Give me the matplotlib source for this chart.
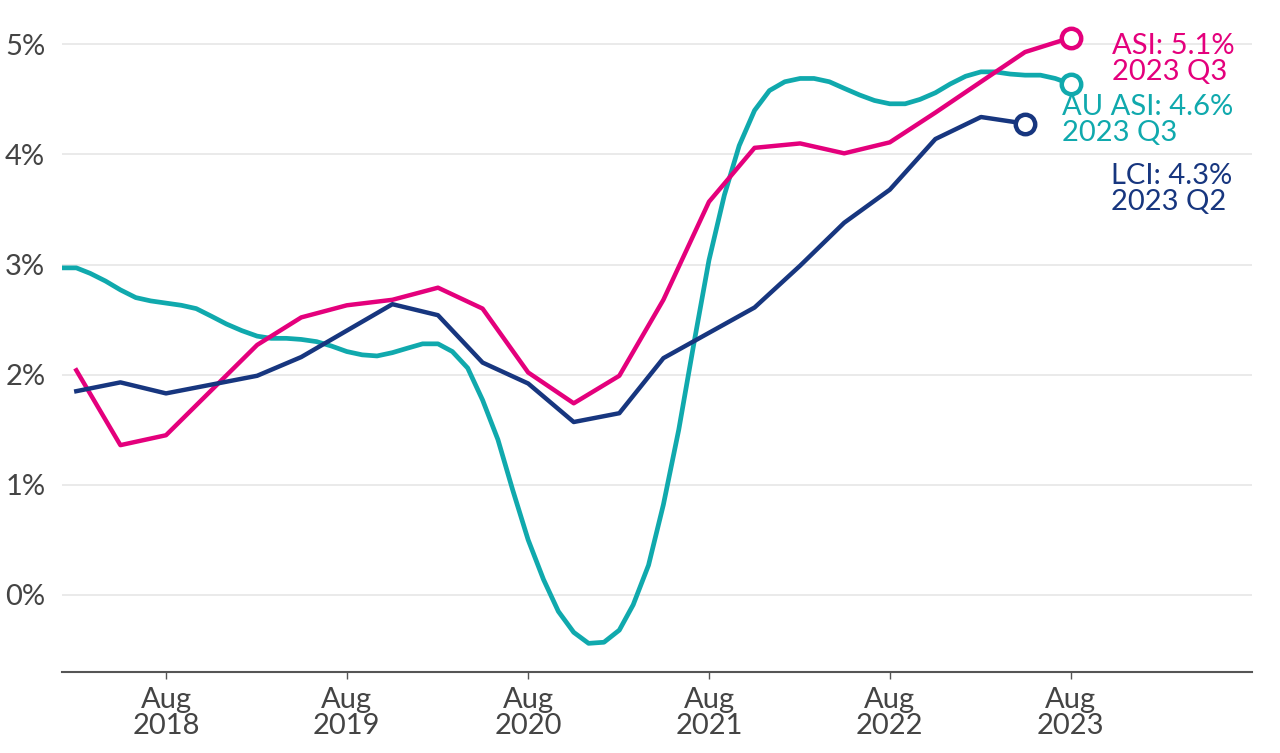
import pandas as pd
import matplotlib.pyplot as plt

plt.rcParams["font.family"] = ["Lato", "DejaVu Sans"]

# quarterly series (mid-quarter months)
q_dates = pd.date_range("2018-02-01", "2023-08-01", freq="3MS")
asi = [2.04, 1.36, 1.45, 1.86, 2.27, 2.52, 2.63, 2.68, 2.79, 2.60, 2.02, 1.74,
       1.99, 2.68, 3.57, 4.06, 4.10, 4.01, 4.11, 4.38, 4.66, 4.93, 5.06]
lci = [1.85, 1.93, 1.83, 1.91, 1.99, 2.16, 2.40, 2.64, 2.54, 2.11, 1.92, 1.57,
       1.65, 2.15, 2.38, 2.61, 2.99, 3.38, 3.68, 4.14, 4.34, 4.28]

# monthly series
m_dates = pd.date_range("2018-01-01", "2023-08-01", freq="MS")
au_asi = [2.97, 2.97, 2.92, 2.85, 2.77, 2.70, 2.67, 2.65, 2.63, 2.60, 2.53, 2.46,
          2.40, 2.35, 2.33, 2.33, 2.32, 2.30, 2.26, 2.21, 2.18, 2.17, 2.20, 2.24,
          2.28, 2.28, 2.21, 2.06, 1.77, 1.41, 0.95, 0.50, 0.14, -0.15, -0.34, -0.44,
          -0.43, -0.32, -0.09, 0.27, 0.82, 1.50, 2.27, 3.04, 3.63, 4.08, 4.40, 4.58,
          4.66, 4.69, 4.69, 4.66, 4.60, 4.54, 4.49, 4.46, 4.46, 4.50, 4.56, 4.64,
          4.71, 4.75, 4.75, 4.73, 4.72, 4.72, 4.69, 4.64]

tick_dates = pd.date_range("2018-08-01", "2023-08-01", freq="12MS")

pink = "#e4007c"
teal = "#10a9ad"
navy = "#17367f"

fig = plt.figure(figsize=(12.8, 7.53), dpi=100)
ax = fig.add_axes([0.0484, 0.1076, 0.9297, 0.8774])

ax.plot(m_dates, au_asi, color=teal, lw=3.4, solid_joinstyle="round", zorder=3)
ax.plot(q_dates, asi, color=pink, lw=3.2, solid_joinstyle="round", zorder=4)
ax.plot(q_dates[:len(lci)], lci, color=navy, lw=3.2, solid_joinstyle="round", zorder=4)

for d, v, c in [(q_dates[-1], asi[-1], pink), (m_dates[-1], au_asi[-1], teal),
                (q_dates[len(lci) - 1], lci[-1], navy)]:
    ax.plot([d], [v], "o", ms=14, mfc="white", mec=c, mew=3.2, zorder=5)

fs = 21
txt = dict(textcoords="offset points", fontsize=fs, va="center", ha="left",
           linespacing=1.0)
ax.annotate("ASI: 5.1%\n2023 Q3", (q_dates[-1], asi[-1]), xytext=(30, -15),
            color=pink, **txt)
ax.annotate("AU ASI: 4.6%\n2023 Q3", (m_dates[-1], au_asi[-1]), xytext=(-6, -26),
            color=teal, **txt)
ax.annotate("LCI: 4.3%\n2023 Q2", (q_dates[len(lci) - 1], lci[-1]), xytext=(62, -47),
            color=navy, **txt)

ax.set_ylim(-0.7, 5.3)
ax.set_yticks([0, 1, 2, 3, 4, 5])
ax.set_yticklabels([f"{t}%" for t in range(6)])
ax.set_xlim(pd.Timestamp("2018-01-03"), pd.Timestamp("2024-08-01"))
ax.set_xticks(tick_dates)
ax.set_xticklabels([d.strftime("%b\n%Y") for d in tick_dates])

ax.grid(axis="y", color="#e6e6e6", lw=1.2)
ax.set_axisbelow(True)
for s in ["top", "right", "left"]:
    ax.spines[s].set_visible(False)
ax.spines["bottom"].set_color("#555555")
ax.spines["bottom"].set_linewidth(1.5)
ax.tick_params(axis="y", length=0, pad=12, labelsize=fs, labelcolor="#444444")
ax.tick_params(axis="x", length=5, width=1, color="#555555", pad=6,
               labelsize=fs, labelcolor="#444444")
for lab in ax.get_xticklabels():
    lab.set_linespacing(1.0)

plt.savefig("out.png", dpi=100)
